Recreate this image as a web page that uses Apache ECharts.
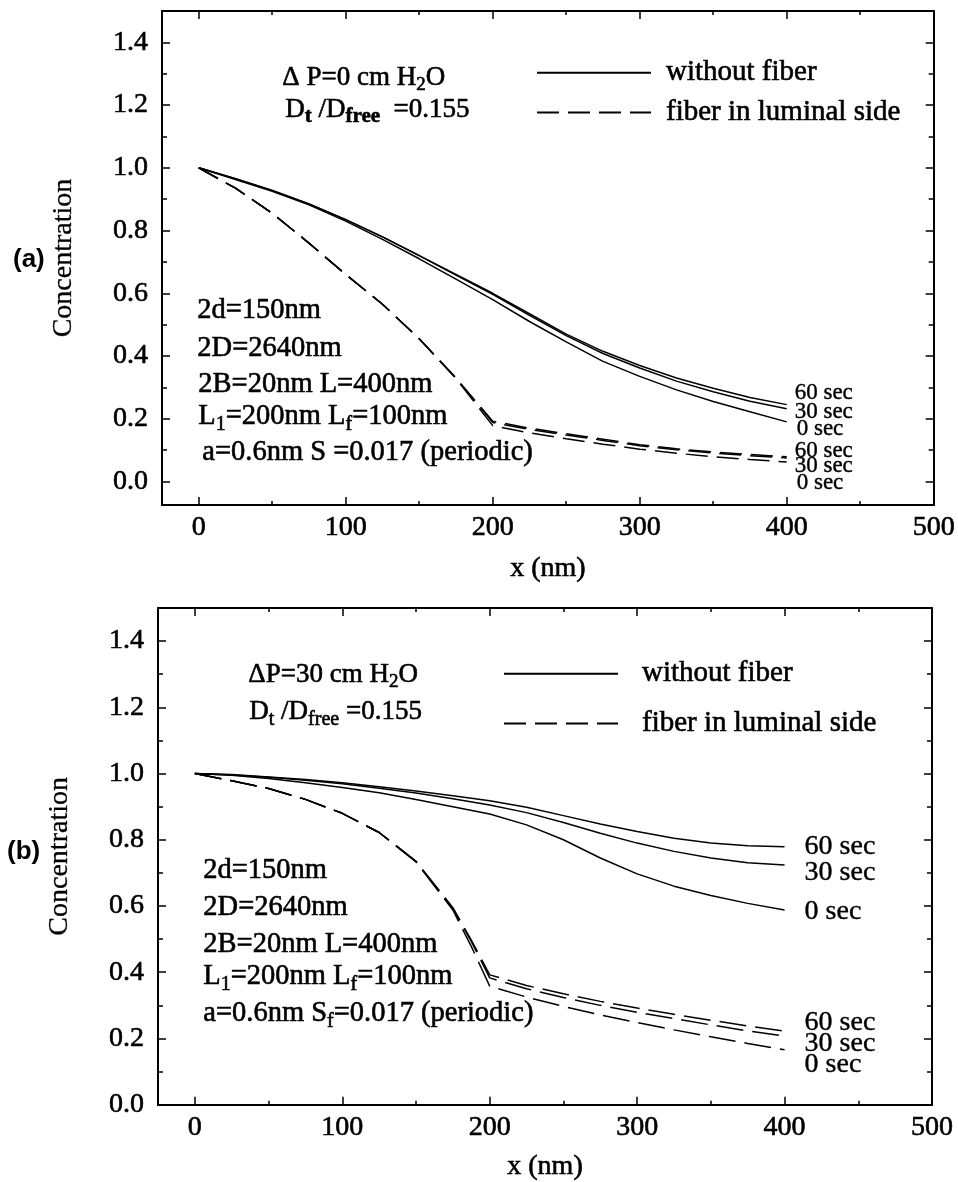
<!DOCTYPE html>
<html><head><meta charset="utf-8">
<script src="https://cdn.jsdelivr.net/npm/echarts@6/dist/echarts.min.js"></script>
<style>html,body{margin:0;padding:0;background:#fff}#c{width:958px;height:1182px}</style>
</head><body><div id="c"></div>
<script>
// ---------- data ----------
const xs = [0,25,50,75,100,125,150,175,200,225,250,275,300,325,350,375,400];
const xsDashB = [0,25,50,75,100,125,150,175,187.5,200,225,250,275,300,325,350,375,400];

// panel (a): ΔP = 0
const aSolid60 = [1.0,0.965,0.928,0.885,0.835,0.78,0.72,0.66,0.60,0.535,0.47,0.415,0.37,0.33,0.297,0.268,0.245];
const aSolid30 = [1.0,0.965,0.928,0.885,0.835,0.78,0.72,0.658,0.597,0.53,0.465,0.408,0.362,0.32,0.286,0.256,0.232];
const aSolid0  = [1.0,0.963,0.925,0.882,0.83,0.772,0.71,0.645,0.58,0.51,0.445,0.383,0.335,0.292,0.255,0.222,0.19];
const aDash60  = [1.0,0.935,0.855,0.76,0.66,0.565,0.455,0.33,0.192,0.17,0.152,0.135,0.117,0.104,0.094,0.086,0.079];
const aDash30  = [1.0,0.935,0.855,0.76,0.66,0.565,0.455,0.33,0.188,0.166,0.148,0.131,0.114,0.101,0.091,0.082,0.075];
const aDash0   = [1.0,0.935,0.855,0.76,0.66,0.565,0.455,0.328,0.178,0.155,0.136,0.119,0.103,0.09,0.079,0.07,0.062];

// panel (b): ΔP = 30
const bSolid60 = [1.0,0.997,0.99,0.982,0.972,0.96,0.947,0.933,0.918,0.898,0.873,0.848,0.825,0.805,0.79,0.782,0.779];
const bSolid30 = [1.0,0.996,0.989,0.98,0.969,0.956,0.941,0.924,0.905,0.882,0.852,0.82,0.79,0.765,0.745,0.731,0.724];
const bSolid0  = [1.0,0.995,0.985,0.972,0.958,0.942,0.922,0.9,0.878,0.845,0.80,0.745,0.697,0.66,0.632,0.608,0.588];
const bDash60  = [1.0,0.978,0.955,0.922,0.88,0.822,0.735,0.595,0.497,0.392,0.36,0.335,0.312,0.292,0.273,0.255,0.238,0.222];
const bDash30  = [1.0,0.978,0.955,0.922,0.88,0.822,0.735,0.593,0.493,0.383,0.35,0.324,0.30,0.279,0.26,0.241,0.223,0.207];
const bDash0   = [1.0,0.978,0.955,0.922,0.88,0.822,0.733,0.588,0.478,0.358,0.325,0.297,0.271,0.248,0.226,0.205,0.185,0.166];

const timeLabels = ['60 sec','30 sec','0 sec'];
const legendNames = ['without fiber','fiber in luminal side'];
const xMajor = [0,100,200,300,400,500];
const xMinor = [50,150,250,350,450];
const yMajor = [0,0.2,0.4,0.6,0.8,1.0,1.2,1.4];
const yMinor = [0.1,0.3,0.5,0.7,0.9,1.1,1.3];

// ---------- styling ----------
const SERIF = '"Liberation Serif","Times New Roman",serif';
const SANS = '"Liberation Sans",Arial,sans-serif';
const BLACK = '#000';
const TB = 0.6; // text stroke to mimic heavy print

const grids = [
  {left:162, top:11, width:773, height:494},
  {left:158, top:608, width:774, height:497}
];
const yMins = [-0.075, 0];
const xNameGaps = [50, 48];
const yNameGaps = [84, 84];

function axisSet(g){
  const xA = [], yA = [];
  const line = {show:true, onZero:false, lineStyle:{color:BLACK, width:2}};
  const noLine = {show:false, onZero:false};
  const tick = (vals, len) => ({show:true, inside:true, length:len, customValues:vals, lineStyle:{color:BLACK, width:1.5}});
  const hidLabel = {show:false};
  const nameStyle = {color:BLACK, fontFamily:SERIF, fontSize:28, textBorderColor:BLACK, textBorderWidth:TB};
  const base = {gridIndex:g, type:'value', min:-25, max:500, splitLine:{show:false}};
  xA.push(Object.assign({}, base, {position:'bottom', axisLine:line, axisTick:tick(xMajor,8),
    axisLabel:{show:true, customValues:xMajor, color:BLACK, fontFamily:SERIF, fontSize:28, margin:9, textBorderColor:BLACK, textBorderWidth:TB},
    name:'x (nm)', nameLocation:'middle', nameGap:xNameGaps[g], nameTextStyle:nameStyle}));
  xA.push(Object.assign({}, base, {position:'bottom', axisLine:noLine, axisTick:tick(xMinor,4), axisLabel:hidLabel}));
  xA.push(Object.assign({}, base, {position:'top', axisLine:line, axisTick:tick(xMajor,8), axisLabel:hidLabel}));
  xA.push(Object.assign({}, base, {position:'top', axisLine:noLine, axisTick:tick(xMinor,4), axisLabel:hidLabel}));
  const ybase = {gridIndex:g, type:'value', min:yMins[g], max:1.5, splitLine:{show:false}};
  yA.push(Object.assign({}, ybase, {position:'left', axisLine:line, axisTick:tick(yMajor,8),
    axisLabel:{show:true, customValues:yMajor, color:BLACK, fontFamily:SERIF, fontSize:28, margin:14, formatter:v=>v.toFixed(1), textBorderColor:BLACK, textBorderWidth:TB},
    name:'Concentration', nameLocation:'middle', nameGap:yNameGaps[g], nameRotate:90,
    nameTextStyle:Object.assign({}, nameStyle, {textBorderWidth:0.3})}));
  yA.push(Object.assign({}, ybase, {position:'left', axisLine:noLine, axisTick:tick(yMinor,5), axisLabel:hidLabel}));
  yA.push(Object.assign({}, ybase, {position:'right', axisLine:line, axisTick:tick(yMajor,8), axisLabel:hidLabel}));
  yA.push(Object.assign({}, ybase, {position:'right', axisLine:noLine, axisTick:tick(yMinor,5), axisLabel:hidLabel}));
  return {xA, yA};
}

function lineSeries(name, g, xArr, yArr, dash, label, off, fs){
  return {
    type:'line', name, xAxisIndex:4*g, yAxisIndex:4*g,
    data: xArr.map((x,i)=>[x, yArr[i]]),
    symbol:'none', smooth:false, silent:true,
    lineStyle:{color:BLACK, width:1.5, type: dash || 'solid'},
    itemStyle:{color:BLACK},
    emphasis:{disabled:true},
    endLabel:{show:true, formatter:label, distance:0, offset:off, fontFamily:SERIF, fontSize:fs, color:BLACK, textBorderColor:BLACK, textBorderWidth:0.4}
  };
}

const A = axisSet(0), B = axisSet(1);
const dashA = [22,9], dashB = [27,9];
const series = [
  lineSeries(legendNames[0],0,xs,aSolid60,null,timeLabels[0],[8,-12],23),
  lineSeries(legendNames[0],0,xs,aSolid30,null,timeLabels[1],[8,3],23),
  lineSeries(legendNames[0],0,xs,aSolid0,null,timeLabels[2],[10,7],23),
  lineSeries(legendNames[1],0,xs,aDash60,dashA,timeLabels[0],[8,-6],23),
  lineSeries(legendNames[1],0,xs,aDash30,dashA,timeLabels[1],[8,8],23),
  lineSeries(legendNames[1],0,xs,aDash0,dashA,timeLabels[2],[10,21],23),
  lineSeries(legendNames[0],1,xs,bSolid60,null,timeLabels[0],[20,0],28),
  lineSeries(legendNames[0],1,xs,bSolid30,null,timeLabels[1],[20,8],28),
  lineSeries(legendNames[0],1,xs,bSolid0,null,timeLabels[2],[20,2],28),
  lineSeries(legendNames[1],1,xsDashB,bDash60,dashB,timeLabels[0],[20,-9],28),
  lineSeries(legendNames[1],1,xsDashB,bDash30,dashB,timeLabels[1],[20,7],28),
  lineSeries(legendNames[1],1,xsDashB,bDash0,dashB,timeLabels[2],[20,15],28)
];

const legendTextA = {color:BLACK, fontFamily:SERIF, fontSize:29, padding:[0,0,0,10], textBorderColor:BLACK, textBorderWidth:TB};
const legendTextB = Object.assign({}, legendTextA, {padding:[0,0,0,19]});
const legendCommon = {data:legendNames, orient:'vertical', itemWidth:114, itemHeight:14, selectedMode:false, itemStyle:{opacity:0}};
const legends = [
  Object.assign({}, legendCommon, {left:531, top:53, itemGap:10, textStyle:legendTextA}),
  Object.assign({}, legendCommon, {left:498, top:654, itemGap:20, textStyle:legendTextB})
];

const R = {
  m:{fontFamily:SERIF, fontSize:27, fill:BLACK},
  p:{fontFamily:SERIF, fontSize:28.5, fill:BLACK},
  s:{fontFamily:SERIF, fontSize:19, fill:BLACK, padding:[14,0,0,0]},
  sp:{fontFamily:SERIF, fontSize:20, fill:BLACK, padding:[15,0,0,0]},
  sb:{fontFamily:SERIF, fontSize:21, fill:BLACK, padding:[14,0,0,0], fontWeight:'bold'}
};
function txt(x, y, text){
  return {type:'text', left:x, top:y, style:{text, rich:R, fill:BLACK, stroke:BLACK, lineWidth:TB, font:'27px '+SERIF}};
}
const graphic = [
  {type:'text', left:13, top:247, style:{text:'(a)', font:'bold 26px '+SANS, fill:BLACK}},
  {type:'text', left:7, top:839, style:{text:'(b)', font:'bold 26px '+SANS, fill:BLACK}},
  txt(282, 64, '{m|Δ P=0 cm H}{s|2}{m|O}'),
  txt(285, 96, '{m|D}{sb|t}{m| /D}{sb|free}{m|  =0.155}'),
  txt(197, 296, '{p|2d=150nm}'),
  txt(197, 334, '{p|2D=2640nm}'),
  txt(198, 370, '{p|2B=20nm L=400nm}'),
  txt(198, 402, '{p|L}{sp|1}{p|=200nm L}{sp|f}{p|=100nm}'),
  txt(202, 438, '{p|a=0.6nm S =0.017 (periodic)}'),
  txt(248, 661, '{m|ΔP=30 cm H}{s|2}{m|O}'),
  txt(249, 698, '{m|D}{sp|t}{m| /D}{sp|free}{m| =0.155}'),
  txt(203, 856, '{p|2d=150nm}'),
  txt(203, 893, '{p|2D=2640nm}'),
  txt(203, 930, '{p|2B=20nm L=400nm}'),
  txt(203, 962, '{p|L}{sp|1}{p|=200nm L}{sp|f}{p|=100nm}'),
  txt(203, 999, '{p|a=0.6nm S}{sp|f}{p|=0.017 (periodic)}')
];

const chart = echarts.init(document.getElementById('c'), null, {renderer:'canvas'});
chart.setOption({
  animation:false,
  backgroundColor:'#fff',
  grid: grids,
  xAxis: A.xA.concat(B.xA),
  yAxis: A.yA.concat(B.yA),
  legend: legends,
  series,
  graphic
});
</script></body></html>
